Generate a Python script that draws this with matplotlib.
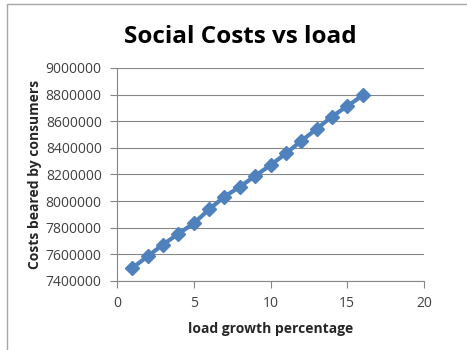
import matplotlib.pyplot as plt
from matplotlib.patches import Rectangle

# load growth (%) and social costs
load_growth = [1, 2, 3, 4, 5, 6, 7, 8, 9, 10, 11, 12, 13, 14, 15, 16]
social_costs = [7498000, 7586000, 7674000, 7755000, 7833000, 7938000, 8034000, 8107000,
                8190000, 8270000, 8358000, 8452000, 8542000, 8635000, 8713000, 8794000]
x_ticks = [0, 5, 10, 15, 20]
y_ticks = [7400000, 7600000, 7800000, 8000000, 8200000, 8400000, 8600000, 8800000, 9000000]

plt.rcParams['font.family'] = ['Open Sans', 'DejaVu Sans']

fig = plt.figure(figsize=(4.67, 3.5), dpi=100)
fig.patch.set_facecolor('white')

# chart frame (only left and top edges visible in the crop)
fig.add_artist(Rectangle((7 / 467, -0.2), 1.2, 1.2 - 4 / 350,
                         transform=fig.transFigure, fill=False,
                         edgecolor='#a6a6a6', linewidth=1.0))

ax = fig.add_axes([117 / 467, (350 - 281) / 350, (424 - 117) / 467, (281 - 68) / 350])

ax.plot(load_growth, social_costs, color='#4f81bd', linewidth=3,
        marker='D', markersize=7, markerfacecolor='#4f81bd', markeredgecolor='#4f81bd')

ax.set_xlim(0, 20)
ax.set_ylim(7400000, 9000000)
ax.set_xticks(x_ticks)
ax.set_yticks(y_ticks)
ax.set_yticklabels([str(v) for v in y_ticks])
ax.grid(axis='y', color='#868686', linewidth=0.8)
ax.set_axisbelow(True)

for s in ['top', 'right']:
    ax.spines[s].set_visible(False)
for s in ['left', 'bottom']:
    ax.spines[s].set_color('#868686')
    ax.spines[s].set_linewidth(0.8)
ax.tick_params(direction='out', length=5, color='#868686', labelsize=10,
               labelcolor='#404040', pad=6)

ax.set_xlabel('load growth percentage', fontsize=10, fontweight='bold',
              color='#262626', labelpad=8)
ax.set_ylabel('Costs beared by consumers', fontsize=10, fontweight='bold',
              color='#262626', labelpad=3)
fig.text(240 / 467, 1 - 37 / 350, 'Social Costs vs load', fontsize=17.5,
         fontweight='bold', ha='center', va='center', color='black')

fig.savefig('out.png', dpi=100)
